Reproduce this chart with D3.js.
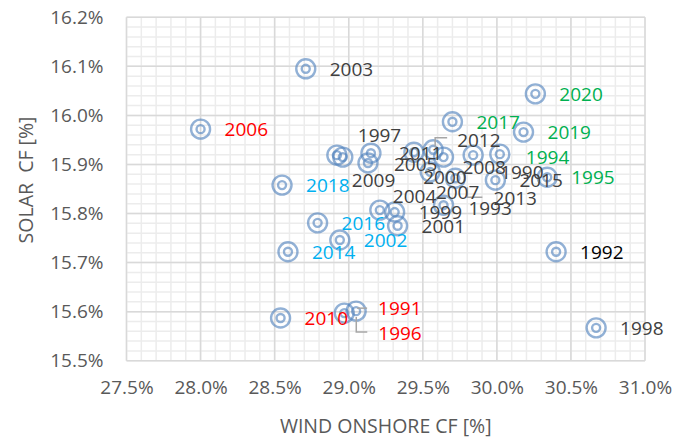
<!DOCTYPE html>
<html>
<head>
<meta charset="utf-8">
<script src="https://cdn.jsdelivr.net/npm/d3@7"></script>
<style>
    body { margin: 0; background: #fff; }
    svg text { font-family: 'Open Sans', 'Liberation Sans', sans-serif; }
    .grid-minor line { stroke: #ececec; stroke-width: 1.5; }
    .grid-major line { stroke: #d9d9d9; stroke-width: 1.5; }
    .axis text { fill: #595959; font-size: 19px; }
    .title { fill: #595959; font-size: 19.5px; }
    .marker { fill: none; stroke: #4f81bd; stroke-opacity: 0.62; stroke-width: 2.4; }
    .leader { fill: none; stroke: #a6a6a6; stroke-width: 1.5; }
    .label { font-size: 19px; fill: #404040; }
</style>
</head>
<body>
<svg id="view" width="690" height="441"></svg>
<script>
const years = [1990, 1991, 1992, 1993, 1994, 1995, 1996, 1997, 1998, 1999,
    2000, 2001, 2002, 2003, 2004, 2005, 2006, 2007, 2008, 2009,
    2010, 2011, 2012, 2013, 2014, 2015, 2016, 2017, 2018, 2019, 2020];

// wind onshore capacity factor [%]
const windCF = [29.84, 29.05, 30.40, 29.72, 30.02, 30.34, 28.97, 28.96, 30.67, 29.31,
    29.55, 29.33, 28.94, 28.71, 29.21, 29.13, 28.00, 29.44, 29.64, 28.92,
    28.54, 29.15, 29.57, 29.64, 28.59, 29.99, 28.79, 29.70, 28.55, 30.18, 30.26];

// solar capacity factor [%]
const solarCF = [15.919, 15.601, 15.722, 15.872, 15.921, 15.874, 15.597, 15.915, 15.567, 15.803,
    15.885, 15.775, 15.746, 16.095, 15.807, 15.903, 15.972, 15.925, 15.915, 15.919,
    15.587, 15.923, 15.930, 15.817, 15.722, 15.868, 15.781, 15.987, 15.858, 15.966, 16.044];

const xTicks = [27.5, 28.0, 28.5, 29.0, 29.5, 30.0, 30.5, 31.0];
const yTicks = [15.5, 15.6, 15.7, 15.8, 15.9, 16.0, 16.1, 16.2];

const redYears = [1991, 1996, 2006, 2010];
const blueYears = [2002, 2014, 2016, 2018];
const greenYears = [1994, 1995, 2017, 2019, 2020];

// hand-moved labels: [dx, dy] from the default spot right of the marker
const labelNudge = {
    1990: [3, 17], 1991: [-2, -3], 1993: [-11, 30], 1994: [2, 3], 1996: [10, 20],
    1997: [-9, -22], 2000: [-31, 5], 2004: [-11, -14], 2005: [2, 1], 2007: [-2, 40],
    2008: [-5, 10], 2009: [-9, 25], 2011: [4, 0], 2012: [0, -10], 2013: [26, -7]
};

// leader lines, offsets from the marker centre
const leaders = {
    1991: [[1, -3], [11, -3]],
    1993: [[12, 9], [12, 19], [27, 19]],
    1996: [[12, 4], [12, 19], [23, 19]],
    2012: [[14, -12], [2, -12], [2, -3]]
};

function labelColor(y) {
    if (redYears.indexOf(y) >= 0) return '#ff0000';
    if (blueYears.indexOf(y) >= 0) return '#00b0f0';
    if (greenYears.indexOf(y) >= 0) return '#00b050';
    if (y === 1992) return '#000000';
    return '#404040';
}

function draw() {
    var svg = d3.select('svg#view');
    const left = 126.5, right = 645, top = 17.3, bottom = 360.7;

    var x = d3.scaleLinear().domain([27.5, 31.0]).range([left, right]);
    var y = d3.scaleLinear().domain([15.5, 16.2]).range([bottom, top]);

    // minor grid
    var minor = svg.append('g').attr('class', 'grid-minor');
    minor.selectAll('line.vx')
        .data(d3.range(0, 36).map(function(i) { return 27.5 + i * 0.1; }))
        .enter()
        .append('line')
        .attr('x1', function(d) { return x(d); })
        .attr('x2', function(d) { return x(d); })
        .attr('y1', top)
        .attr('y2', bottom);
    minor.selectAll('line.hy')
        .data(d3.range(0, 36).map(function(i) { return 15.5 + i * 0.02; }))
        .enter()
        .append('line')
        .attr('x1', left)
        .attr('x2', right)
        .attr('y1', function(d) { return y(d); })
        .attr('y2', function(d) { return y(d); });

    // major grid
    var major = svg.append('g').attr('class', 'grid-major');
    major.selectAll('line.vx')
        .data(xTicks)
        .enter()
        .append('line')
        .attr('x1', function(d) { return x(d); })
        .attr('x2', function(d) { return x(d); })
        .attr('y1', top)
        .attr('y2', bottom);
    major.selectAll('line.hy')
        .data(yTicks)
        .enter()
        .append('line')
        .attr('x1', left)
        .attr('x2', right)
        .attr('y1', function(d) { return y(d); })
        .attr('y2', function(d) { return y(d); });

    // axes
    var xAxis = d3.axisBottom(x)
        .tickValues(xTicks)
        .tickSize(0)
        .tickPadding(20)
        .tickFormat(function(d) { return d.toFixed(1) + '%'; });
    svg.append('g')
        .attr('class', 'axis')
        .attr('transform', 'translate(0,' + bottom + ')')
        .call(xAxis)
        .call(function(g) { g.select('.domain').remove(); });

    var yAxis = d3.axisLeft(y)
        .tickValues(yTicks)
        .tickSize(0)
        .tickPadding(23)
        .tickFormat(function(d) { return d.toFixed(1) + '%'; });
    svg.append('g')
        .attr('class', 'axis')
        .attr('transform', 'translate(' + left + ',0)')
        .call(yAxis)
        .call(function(g) { g.select('.domain').remove(); });
    svg.selectAll('.axis').attr('font-family', null).attr('font-size', null);

    svg.append('text')
        .attr('class', 'title')
        .attr('x', (left + right) / 2)
        .attr('y', 425)
        .attr('text-anchor', 'middle')
        .attr('dominant-baseline', 'central')
        .text('WIND ONSHORE CF [%]');
    svg.append('text')
        .attr('class', 'title')
        .attr('transform', 'translate(25,180) rotate(-90)')
        .attr('text-anchor', 'middle')
        .attr('dominant-baseline', 'central')
        .style('white-space', 'pre')
        .text('SOLAR  CF [%]');

    var points = years.map(function(yr, i) {
        return { year: yr, cx: x(windCF[i]), cy: y(solarCF[i]) };
    });

    // markers
    var marks = svg.append('g').selectAll('g.pt')
        .data(points)
        .enter()
        .append('g')
        .attr('transform', function(d) { return 'translate(' + d.cx + ',' + d.cy + ')'; });
    marks.append('circle').attr('class', 'marker').attr('r', 9.5);
    marks.append('circle').attr('class', 'marker').attr('r', 4);

    // leader lines
    svg.append('g').selectAll('path.leader')
        .data(points.filter(function(d) { return leaders[d.year]; }))
        .enter()
        .append('path')
        .attr('class', 'leader')
        .attr('d', function(d) {
            return d3.line()(leaders[d.year].map(function(p) { return [d.cx + p[0], d.cy + p[1]]; }));
        });

    // labels
    svg.append('g').selectAll('text.label')
        .data(points)
        .enter()
        .append('text')
        .attr('class', 'label')
        .attr('x', function(d) { return d.cx + 24 + (labelNudge[d.year] ? labelNudge[d.year][0] : 0); })
        .attr('y', function(d) { return d.cy + (labelNudge[d.year] ? labelNudge[d.year][1] : 0); })
        .attr('dominant-baseline', 'central')
        .style('fill', function(d) { return labelColor(d.year); })
        .text(function(d) { return d.year; });
}

draw();
</script>
</body>
</html>
